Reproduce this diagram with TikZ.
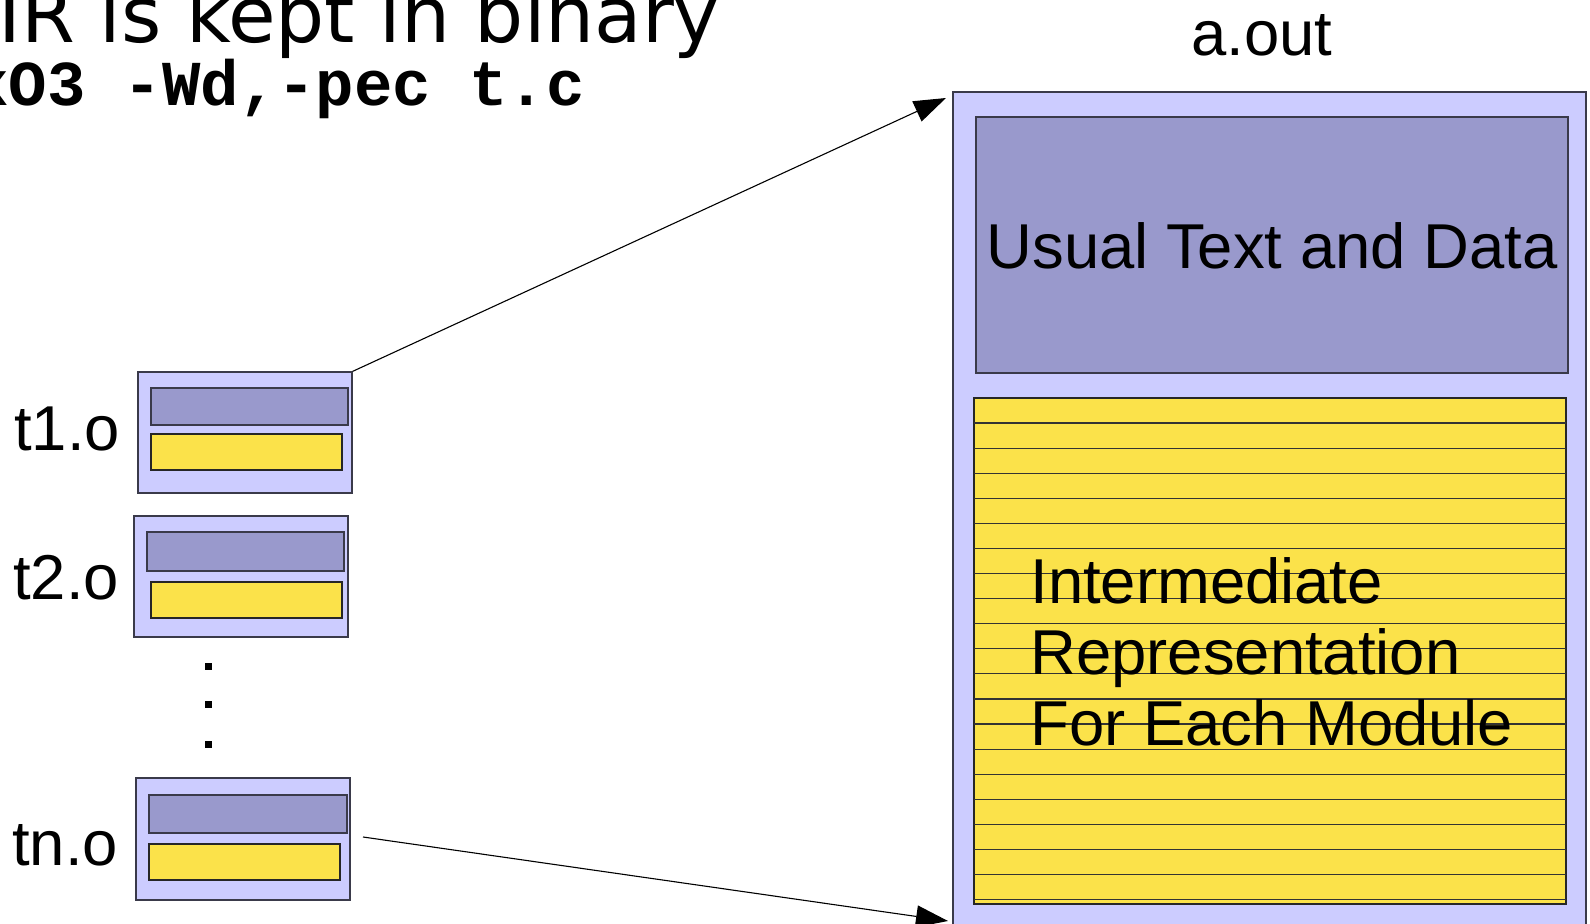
\documentclass[tikz,border=0pt]{standalone}
\usepackage{fontspec}
\setmainfont{Liberation Sans}
\setmonofont{Liberation Mono}
\newfontfamily\irfont{DejaVu Sans}
\usetikzlibrary{arrows.meta}
\definecolor{lav}{HTML}{CCCCFF}
\definecolor{pur}{HTML}{9999CC}
\definecolor{yel}{HTML}{FBE24A}
\definecolor{edge}{HTML}{3A3A4A}
\newcommand\lblfont{\fontsize{31.7}{35.5}\selectfont}
\tikzset{
  x=0.5pt, y=-0.5pt,
  outerbox/.style={draw=edge, fill=lav, line width=0.6pt, inner sep=0pt},
  purbox/.style={draw=edge, fill=pur, line width=0.6pt, inner sep=0pt},
  yelbox/.style={draw=black!85, fill=yel, line width=0.6pt, inner sep=0pt},
  stripe/.style={draw=black!80, line width=0.6pt},
  lbl/.style={font=\lblfont, inner sep=0pt},
  dotsq/.style={fill=black, inner sep=0pt, minimum size=3.5pt},
  conn/.style={draw=black, line width=0.55pt, -{Triangle[length=16pt, width=11pt]}}
}
\begin{document}
\begin{tikzpicture}
\useasboundingbox (0,0) rectangle (1590,924);
\clip (0,0) rectangle (1590,924);
% title lines (cut off at top and left)
\node[anchor=base west, inner sep=0pt, font=\irfont\fontsize{38.7}{42}\selectfont] (title) at (-2,43) {IR is kept in binary};
\node[anchor=base west, inner sep=0pt, font=\ttfamily\bfseries\fontsize{32}{34}\selectfont] (cmd) at (-30,106) {xO3 -Wd,-pec t.c};
% a.out
\node[lbl, anchor=base] (aoutlbl) at (1262,56) {a.out};
\node[outerbox, minimum width=316.5pt, minimum height=419pt] (A) at (1269.5,511) {};
\node[purbox, minimum width=296pt, minimum height=128pt] (U) at (1272,245) {};
\node[lbl, anchor=base] (Utext) at (1272,269) {Usual Text and Data};
\node[yelbox, minimum width=296pt, minimum height=253pt] (Y) at (1270,651) {};
\foreach \k in {1,...,20} {
  \draw[stripe] (974,{398+25.08*\k}) -- (1566,{398+25.08*\k});
}
\node[lbl, anchor=base west, align=left] (IRtext) at (1030,745) {Intermediate\\Representation\\For Each Module};
% t1.o
\node[outerbox, minimum width=107pt, minimum height=60.5pt] (t1) at (245,432.5) {};
\node[purbox, minimum width=98.5pt, minimum height=18.5pt] (t1p) at (249.5,406.5) {};
\node[yelbox, minimum width=95.5pt, minimum height=18pt] (t1y) at (246.5,452) {};
\node[lbl, anchor=base] (t1lbl) at (67,451) {t1.o};
% t2.o
\node[outerbox, minimum width=107pt, minimum height=60.5pt] (t2) at (241,576.5) {};
\node[purbox, minimum width=98.5pt, minimum height=19.5pt] (t2p) at (245.5,551.5) {};
\node[yelbox, minimum width=95.5pt, minimum height=18pt] (t2y) at (246.5,600) {};
\node[lbl, anchor=base] (t2lbl) at (66,600) {t2.o};
% dots
\node[dotsq] (d1) at (208,666) {};
\node[dotsq] (d2) at (208,704) {};
\node[dotsq] (d3) at (208,744) {};
% tn.o
\node[outerbox, minimum width=107pt, minimum height=61pt] (tn) at (243,839) {};
\node[purbox, minimum width=99pt, minimum height=19pt] (tnp) at (248,814) {};
\node[yelbox, minimum width=95.5pt, minimum height=18pt] (tny) at (244.5,862) {};
\node[lbl, anchor=base] (tnlbl) at (65,865) {tn.o};
% connectors
\coordinate (e1) at (946,98);
\coordinate (s2) at (363,837);
\coordinate (e2) at (948,921);
\draw[conn] (t1.north east) -- (e1);
\draw[conn] (s2) -- (e2);
\end{tikzpicture}
\end{document}
